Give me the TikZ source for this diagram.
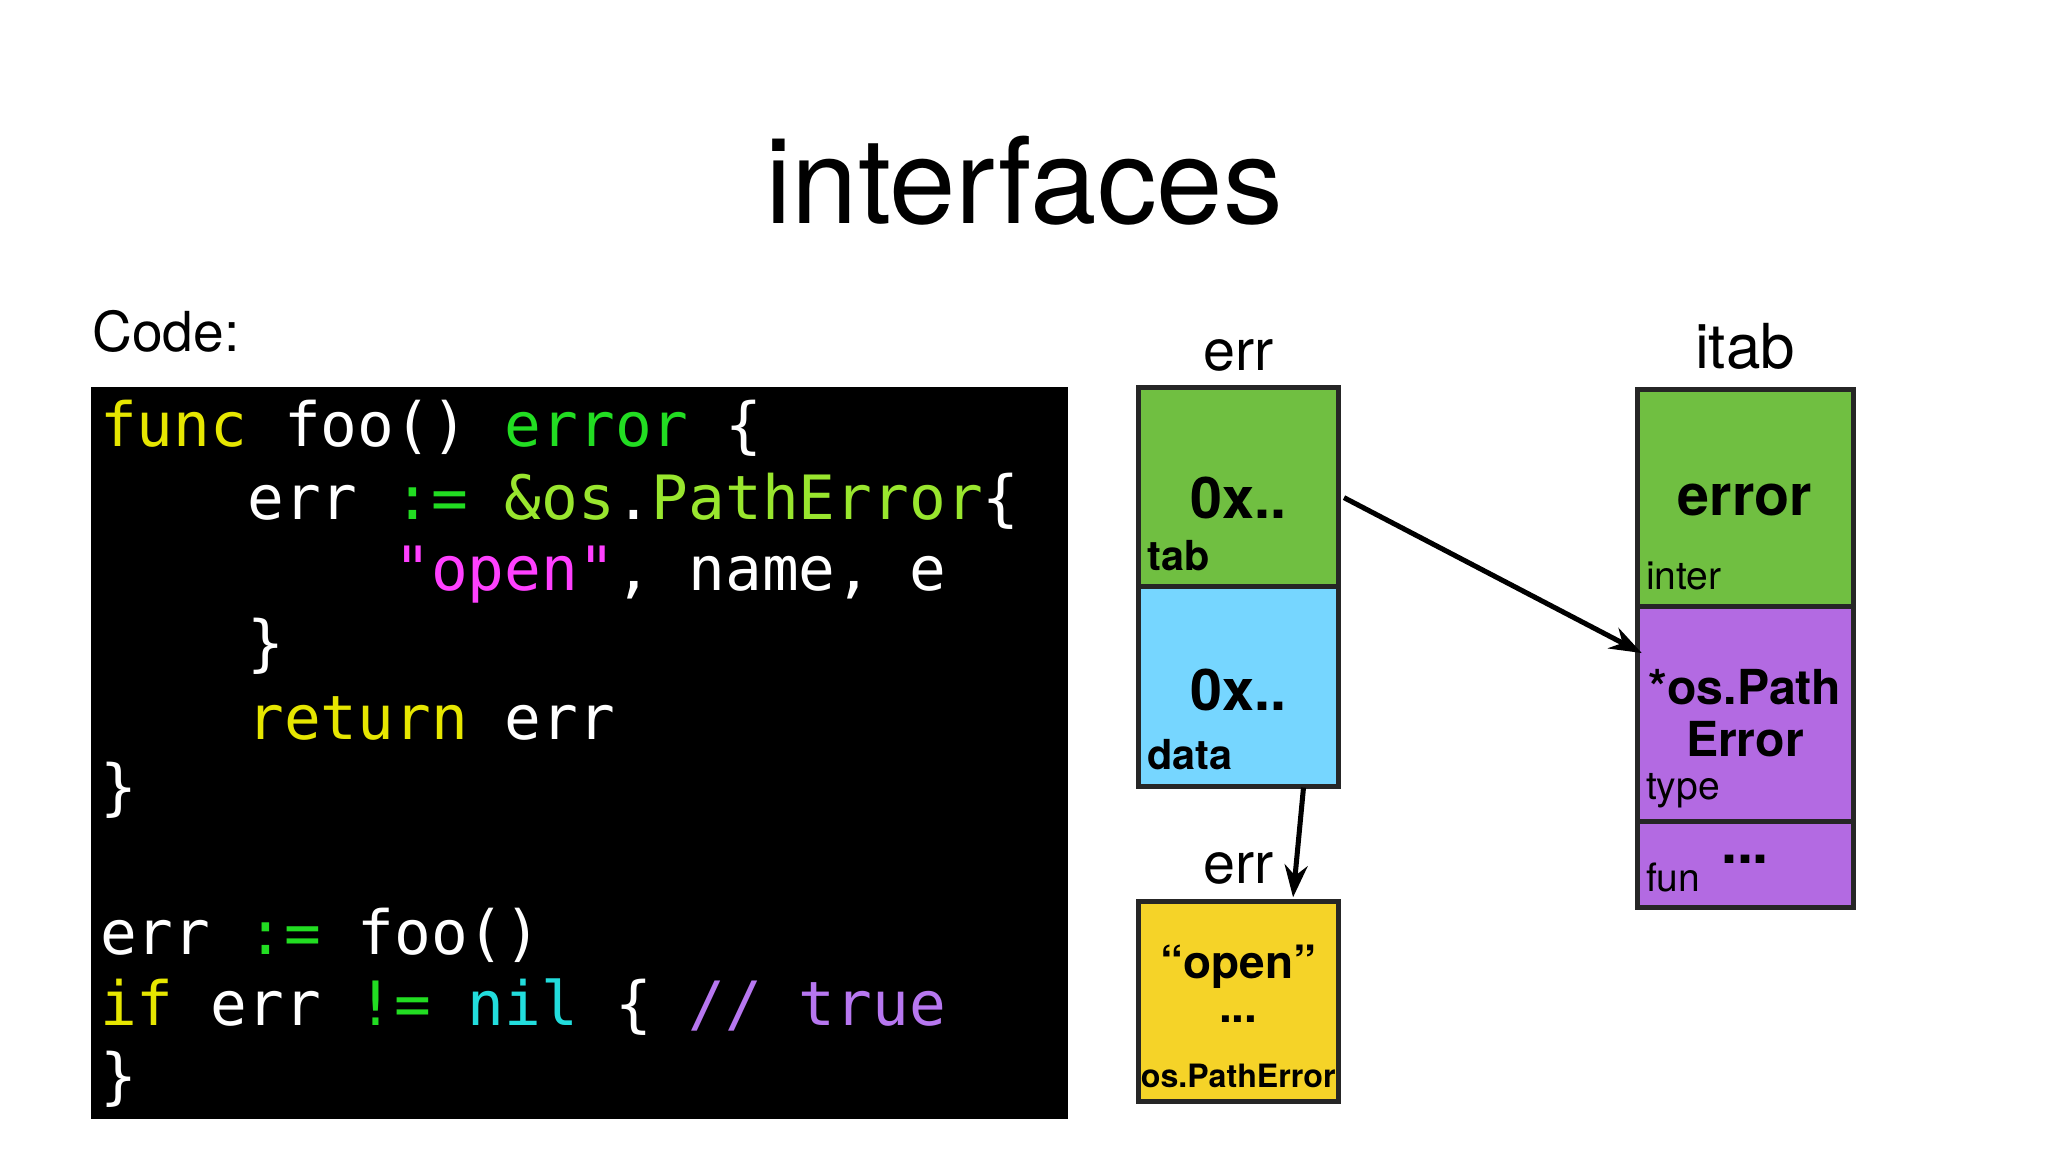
\documentclass[tikz,border=0pt]{standalone}
\usepackage{fontspec}
\setmainfont{TeX Gyre Heros}
\setmonofont{DejaVu Sans Mono}
\usetikzlibrary{arrows.meta}
\definecolor{cy}{HTML}{E6E600}
\definecolor{cg}{HTML}{22DD22}
\definecolor{cl}{HTML}{99E62E}
\definecolor{cm}{HTML}{FF40FF}
\definecolor{cc}{HTML}{22DDDD}
\definecolor{cp}{HTML}{B777F0}
\definecolor{bg}{HTML}{70BF41}
\definecolor{bb}{HTML}{76D6FF}
\definecolor{by}{HTML}{F5D328}
\definecolor{bp}{HTML}{B36AE2}
\begin{document}
\begin{tikzpicture}[x=0.01cm,y=-0.01cm,
  cell/.style={draw=black!85,line width=1.1pt},
  code/.style={anchor=west,inner sep=0,text=white,font=\ttfamily\fontsize{13.3}{15}\selectfont},
  big/.style={font=\bfseries\fontsize{12.5}{15}\selectfont},
  sm/.style={anchor=south west,inner sep=1pt,font=\fontsize{8.5}{10}\selectfont},
  lab/.style={font=\fontsize{12.5}{14}\selectfont},
  arr/.style={-{Stealth[length=7pt,width=5pt]},line width=1.1pt}]
\useasboundingbox (0,0) rectangle (1568,882);
\node (title) at (784,138) {\fontsize{26}{30}\selectfont interfaces};
\node[anchor=west,inner sep=0] (codel) at (70,254) {\fontsize{12}{14}\selectfont Code:};
\fill (70,296) rectangle (818,857);
\node[code] (l1) at (76,328) {\textcolor{cy}{func} foo() \textcolor{cg}{error} \{};
\node[code] (l2) at (76,384) {\phantom{xxxx}err \textcolor{cg}{:=} \textcolor{cl}{\&os}.\textcolor{cl}{PathError}\{};
\node[code] (l3) at (76,440) {\phantom{xxxxxxxx}\textcolor{cm}{"open"}, name, e};
\node[code] (l4) at (76,495) {\phantom{xxxx}\}};
\node[code] (l5) at (76,550) {\phantom{xxxx}\textcolor{cy}{return} err};
\node[code] (l6) at (76,605) {\}};
\node[code] (l7) at (76,716) {err \textcolor{cg}{:=} foo()};
\node[code] (l8) at (76,771) {\textcolor{cy}{if} err \textcolor{cg}{!=} \textcolor{cc}{nil} \{ \textcolor{cp}{// true}};
\node[code] (l9) at (76,826) {\}};
% err box
\node[lab] (errl) at (948,272) {err};
\draw[cell,fill=bg] (872,297) rectangle (1025,449);
\draw[cell,fill=bb] (872,449) rectangle (1025,602);
\node[big] (tab) at (948,381) {0x..};
\node[big] (data) at (948,528) {0x..};
\node[sm,font=\bfseries\fontsize{9}{10}\selectfont] at (874,441) {tab};
\node[sm,font=\bfseries\fontsize{9}{10}\selectfont] at (874,594) {data};
\coordinate (dataS) at (998,603);
\coordinate (tabE) at (1029,381);
% yellow
\node[lab] (err2) at (948,665) {err};
\draw[cell,fill=by] (872,690) rectangle (1025,843);
\coordinate (yN) at (990,687);
\node[font=\bfseries\fontsize{10}{12}\selectfont] (open) at (948,740) {“open”};
\node[font=\bfseries\fontsize{10}{12}\selectfont] (dots1) at (948,780) {...};
\node[font=\bfseries\fontsize{7}{9}\selectfont] (ospe) at (948,824) {os.PathError};
% itab
\node[lab,font=\fontsize{13.5}{15}\selectfont] (itabl) at (1336,265) {itab};
\draw[cell,fill=bg] (1254,298) rectangle (1419,464);
\draw[cell,fill=bp] (1254,464) rectangle (1419,629);
\draw[cell,fill=bp] (1254,629) rectangle (1419,695);
\node[big] (errorn) at (1336,383) {error};
\node[sm] at (1256,456) {inter};
\node[font=\bfseries\fontsize{10.5}{11.5}\selectfont,align=center,inner sep=0] (ospath) at (1336,546) {*os.Path\\Error};
\node[sm] at (1256,623) {type};
\node[sm] at (1256,687) {fun};
\node[big] (dots2) at (1336,658) {...};
\coordinate (typeW) at (1257,500);
\draw[arr] (tabE) -- (typeW);
\draw[arr] (dataS) -- (yN);
\end{tikzpicture}
\end{document}
